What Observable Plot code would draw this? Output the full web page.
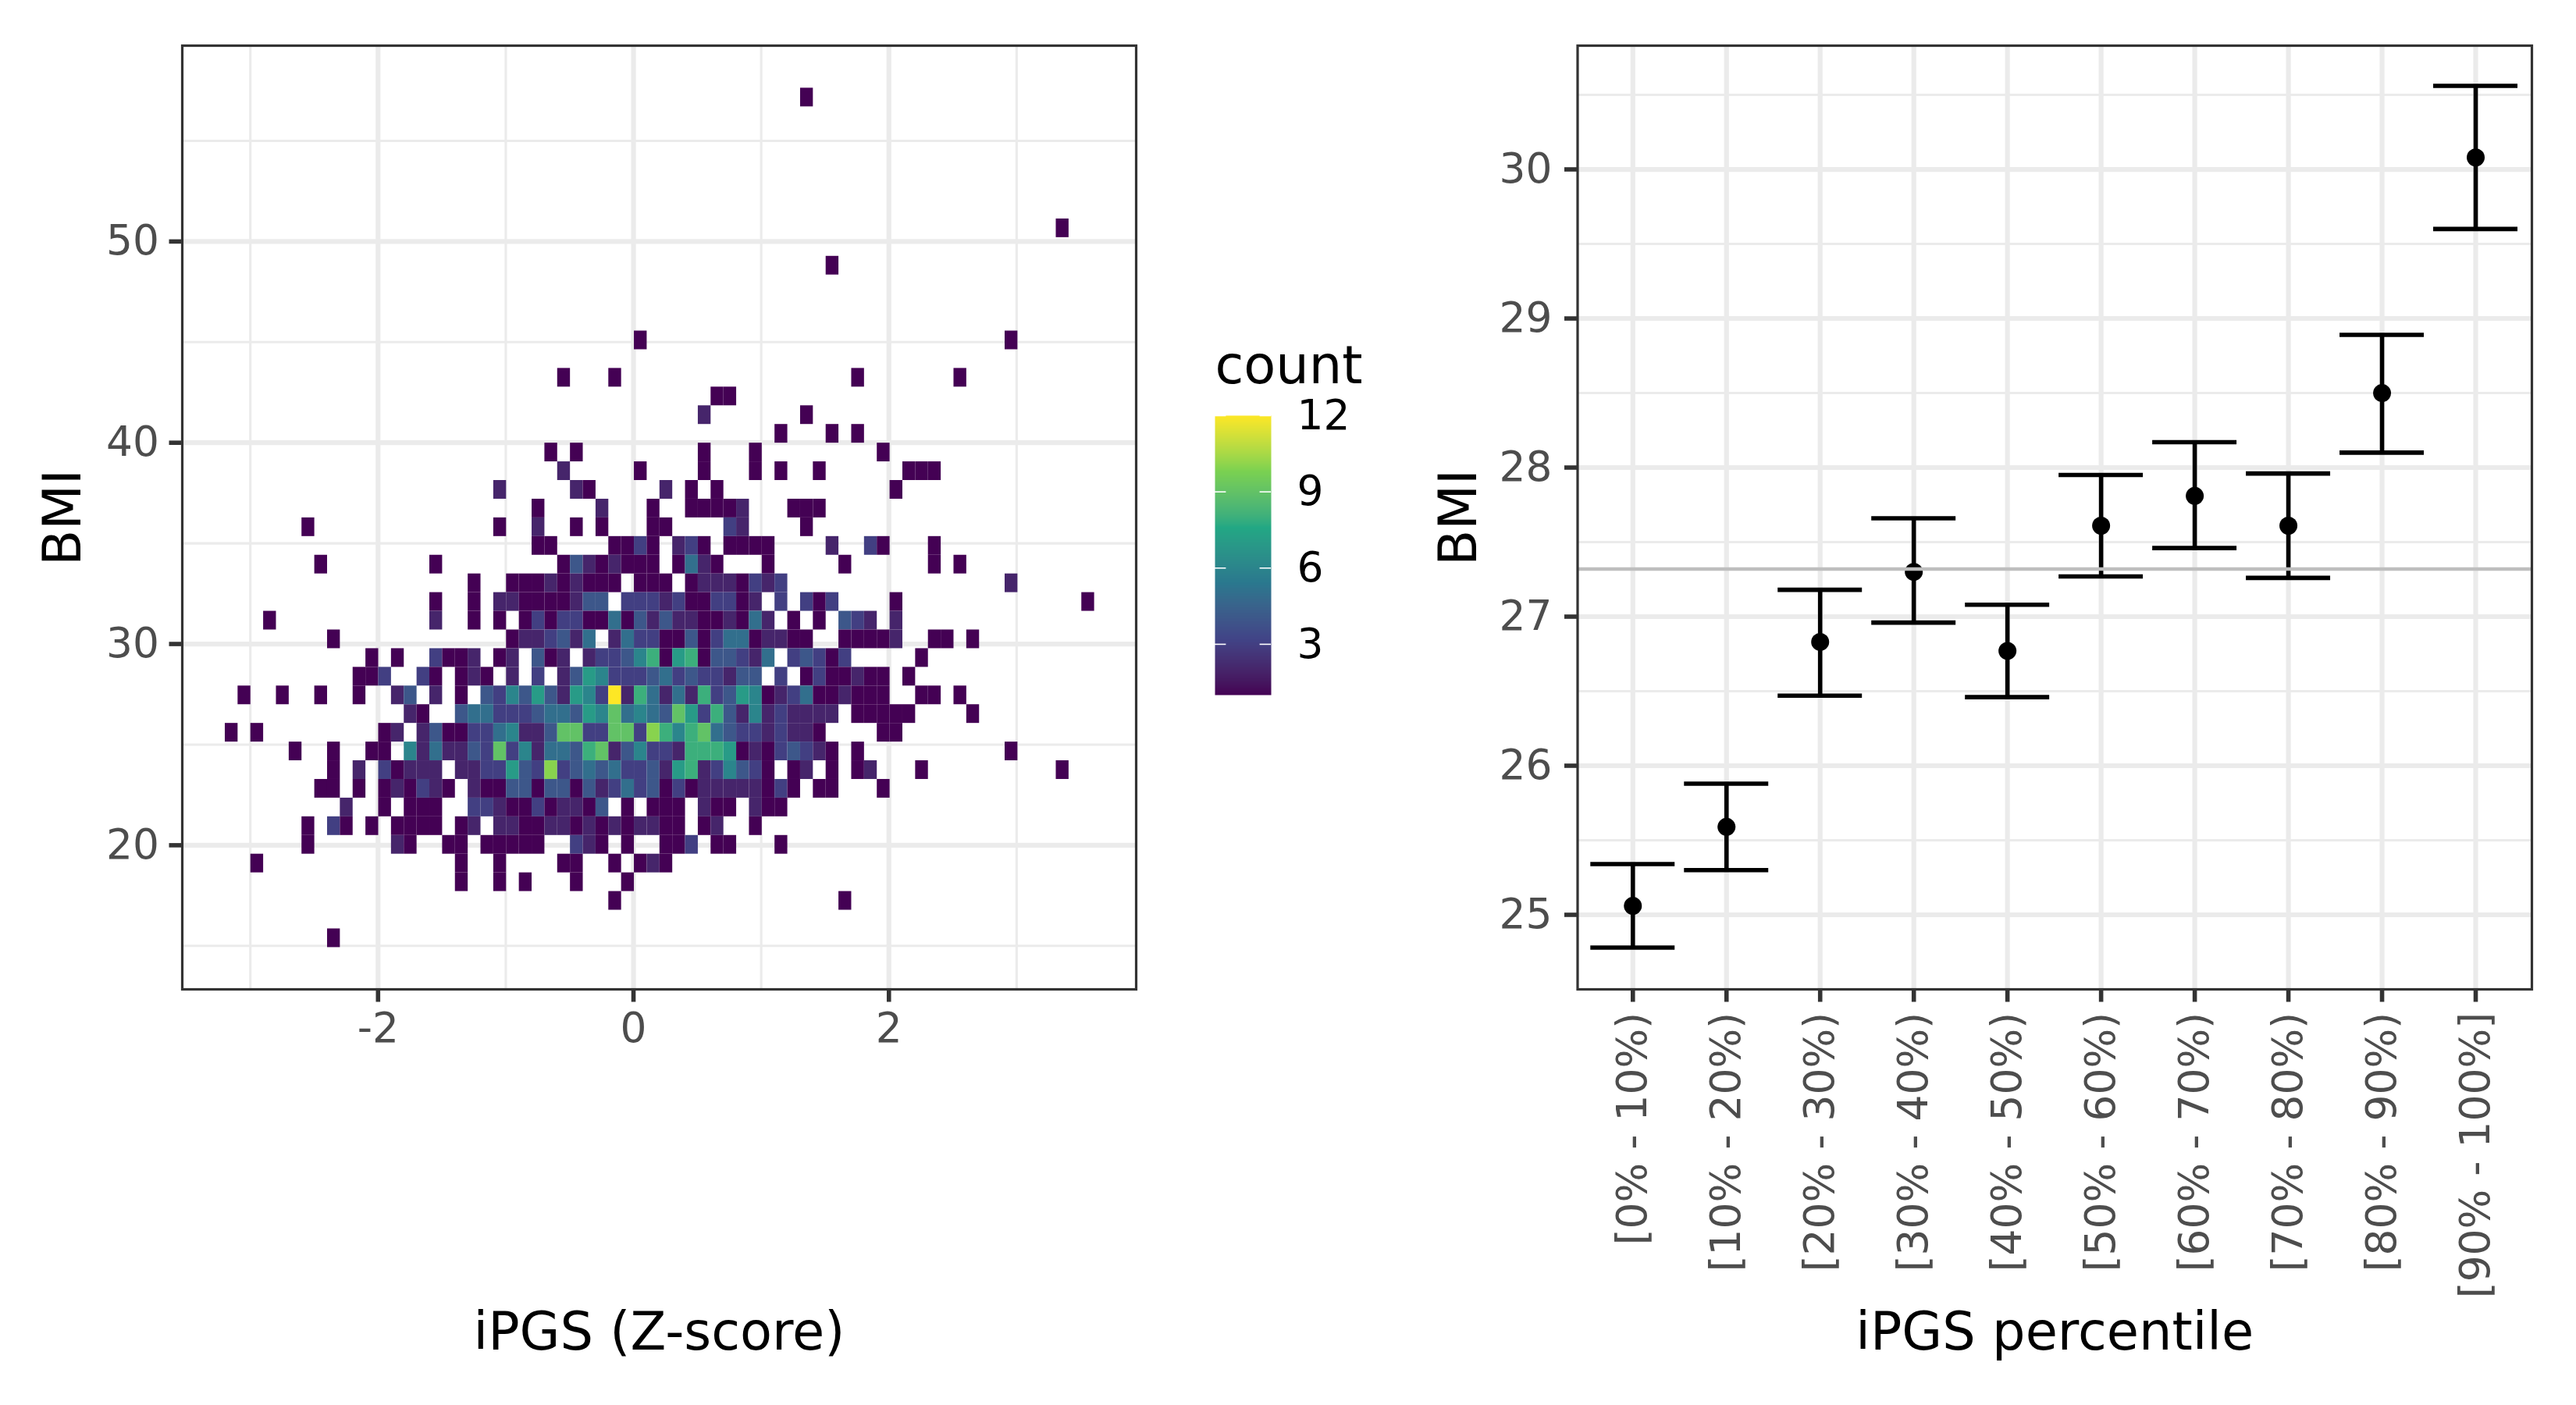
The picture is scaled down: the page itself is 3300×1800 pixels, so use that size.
<!DOCTYPE html>
<html>
<head>
<meta charset="utf-8">
<style>
html,body{margin:0;padding:0;background:#fff;width:3300px;height:1800px;overflow:hidden;}
.p{position:absolute;top:0;}
.p svg{max-width:none !important;display:block;background:transparent;}
</style>
<script src="https://cdn.jsdelivr.net/npm/d3@7"></script>
<script src="https://cdn.jsdelivr.net/npm/@observablehq/plot@0.6"></script>
</head>
<body>
<div class="p" id="left" style="left:0"></div>
<div class="p" id="legend" style="left:1520px;top:400px"></div>
<div class="p" id="right" style="left:1600px"></div>
<script>
// ---------- Left panel: 2D histogram of iPGS (Z-score) vs BMI ----------
const xBinStart = -3.197, xBinWidth = 0.1001;   // iPGS bin edges
const yBinTop = 39.055, yBinHeight = 0.9283;    // BMI bin edges
// [bmi row, [[iPGS column, count], ...]]
const heatRows = [
[-20,[[45,1]]],
[-13,[[65,1]]],
[-11,[[47,1]]],
[-7,[[32,1],[61,1]]],
[-5,[[26,1],[30,1],[49,1],[57,1]]],
[-4,[[38,1],[39,1]]],
[-3,[[37,2],[45,1]]],
[-2,[[43,1],[47,1],[49,1]]],
[-1,[[25,1],[27,1],[37,1],[41,1],[51,1]]],
[0,[[26,2],[32,1],[37,1],[41,1],[43,1],[46,1],[53,1],[54,1],[55,1]]],
[1,[[21,2],[27,2],[28,1],[34,2],[36,1],[38,1],[52,1]]],
[2,[[24,1],[29,2],[33,1],[36,1],[37,1],[38,1],[39,1],[40,2],[44,1],[45,1],[46,1]]],
[3,[[6,1],[21,1],[24,2],[27,1],[29,1],[33,1],[34,1],[39,3],[40,2],[45,1]]],
[4,[[24,1],[25,1],[30,1],[31,1],[32,3],[33,1],[35,2],[36,3],[37,1],[39,1],[40,1],[41,1],[42,1],[47,2],[50,3],[51,1],[55,1]]],
[5,[[7,1],[16,1],[26,1],[27,4],[28,2],[29,1],[30,2],[31,1],[32,1],[33,1],[35,1],[36,5],[37,2],[38,1],[42,1],[48,1],[55,1],[57,1]]],
[6,[[19,1],[22,1],[23,1],[24,1],[25,2],[26,1],[27,2],[28,1],[29,1],[30,1],[32,1],[33,1],[34,1],[36,1],[37,2],[38,2],[39,2],[40,1],[41,3],[42,2],[43,3],[61,2]]],
[7,[[16,1],[19,1],[21,2],[22,2],[23,1],[24,1],[25,1],[26,1],[27,2],[28,4],[29,4],[31,3],[32,3],[33,3],[34,2],[35,3],[36,1],[37,1],[38,3],[39,3],[40,1],[41,2],[43,3],[45,3],[46,1],[47,3],[52,1],[67,1]]],
[8,[[3,1],[16,2],[19,1],[21,1],[23,1],[24,3],[25,1],[26,3],[27,3],[28,1],[29,1],[30,5],[31,1],[32,4],[33,2],[34,4],[35,2],[36,2],[37,1],[38,1],[39,2],[40,1],[41,5],[42,2],[44,1],[46,1],[48,4],[49,3],[50,2],[52,2]]],
[9,[[8,1],[22,1],[23,2],[24,2],[25,3],[26,4],[27,2],[28,5],[30,2],[31,5],[32,3],[33,3],[34,1],[35,1],[36,4],[37,1],[38,3],[39,5],[40,5],[41,1],[42,2],[43,2],[44,1],[45,1],[48,1],[49,1],[50,1],[51,1],[52,2],[55,1],[56,1],[58,1]]],
[10,[[11,1],[13,1],[16,3],[17,1],[18,1],[19,2],[21,1],[22,2],[24,4],[25,1],[26,2],[28,2],[29,3],[30,3],[31,4],[32,6],[33,8],[34,1],[35,7],[36,8],[37,1],[38,4],[39,4],[40,3],[41,2],[42,5],[44,3],[45,4],[46,3],[47,1],[48,3],[54,1]]],
[11,[[10,1],[11,1],[12,3],[15,3],[16,1],[18,1],[19,2],[20,1],[22,2],[24,3],[26,2],[27,4],[28,7],[29,6],[30,3],[31,3],[32,3],[33,4],[34,5],[35,3],[36,4],[37,3],[38,3],[39,2],[40,4],[41,4],[43,3],[45,1],[46,3],[47,1],[48,1],[49,2],[50,1],[51,1],[53,1]]],
[12,[[1,1],[4,1],[7,1],[10,1],[13,2],[14,4],[16,2],[18,1],[20,4],[21,3],[22,6],[23,4],[24,7],[25,4],[26,2],[27,7],[28,6],[29,3],[30,12],[31,2],[32,8],[33,5],[34,2],[35,5],[36,2],[37,8],[38,3],[39,4],[40,7],[41,6],[42,1],[43,2],[44,3],[45,5],[46,1],[47,1],[48,2],[49,1],[50,1],[51,1],[54,1],[55,1],[57,1]]],
[13,[[14,2],[15,1],[18,4],[19,5],[20,5],[21,3],[22,3],[23,3],[24,4],[25,5],[26,5],[27,4],[28,7],[29,6],[30,9],[31,5],[32,6],[33,5],[34,4],[35,9],[36,7],[37,3],[38,8],[39,4],[40,2],[41,6],[42,2],[43,3],[44,2],[45,2],[46,2],[47,2],[49,1],[50,1],[51,1],[52,1],[53,1],[58,1]]],
[14,[[0,1],[2,1],[12,1],[13,2],[15,2],[16,4],[17,1],[18,1],[19,3],[20,3],[21,5],[22,6],[23,2],[24,2],[25,4],[26,9],[27,9],[28,3],[29,3],[30,9],[31,9],[32,3],[33,10],[34,8],[35,6],[36,8],[37,9],[38,5],[39,4],[40,3],[41,3],[42,2],[43,3],[44,2],[45,2],[46,1],[51,1],[52,1]]],
[15,[[5,1],[8,1],[11,1],[12,1],[14,6],[15,2],[16,5],[17,2],[18,2],[19,4],[20,3],[21,9],[22,3],[23,6],[24,2],[25,5],[26,5],[27,4],[28,8],[29,9],[30,2],[31,4],[32,6],[33,3],[34,3],[35,2],[36,8],[37,8],[38,8],[39,7],[40,1],[41,2],[42,1],[43,3],[44,4],[45,3],[46,2],[47,1],[49,1],[61,1]]],
[16,[[8,1],[10,2],[12,3],[13,1],[14,2],[15,2],[16,2],[18,2],[19,2],[20,3],[21,3],[22,7],[23,4],[24,3],[25,10],[26,3],[27,4],[28,5],[29,4],[30,5],[31,3],[32,3],[33,4],[34,2],[35,7],[36,8],[37,2],[38,3],[39,6],[40,4],[41,3],[42,1],[44,1],[45,2],[47,1],[49,1],[50,2],[54,1],[65,1]]],
[17,[[7,1],[8,1],[10,1],[12,1],[13,2],[14,1],[15,3],[16,2],[17,1],[19,2],[20,1],[21,1],[22,4],[23,4],[24,1],[25,4],[26,4],[27,1],[28,4],[29,2],[30,3],[31,5],[32,3],[33,4],[34,1],[35,3],[36,1],[37,2],[38,2],[39,2],[40,2],[41,2],[42,1],[43,3],[44,1],[46,1],[47,1],[51,1]]],
[18,[[9,2],[12,1],[14,1],[15,1],[16,1],[19,3],[20,3],[21,2],[22,1],[23,1],[24,3],[25,1],[26,2],[27,2],[28,1],[29,4],[31,1],[33,1],[34,1],[35,1],[37,2],[38,1],[39,1],[41,2],[42,1],[43,1]]],
[19,[[6,1],[8,3],[9,1],[11,1],[13,1],[14,1],[15,1],[16,1],[18,1],[19,2],[21,2],[22,2],[23,1],[24,1],[25,2],[26,2],[27,1],[28,2],[29,1],[30,2],[31,1],[32,2],[33,2],[34,1],[35,1],[37,1],[38,2],[41,1]]],
[20,[[6,1],[13,2],[14,1],[17,1],[18,1],[20,1],[21,1],[22,1],[23,1],[24,1],[27,3],[28,2],[29,1],[31,1],[34,1],[35,1],[36,3],[38,1],[39,1],[43,1]]],
[21,[[2,1],[18,1],[21,1],[26,1],[27,1],[30,1],[32,1],[33,2],[34,1]]],
[22,[[18,1],[21,1],[23,1],[27,1],[31,1]]],
[23,[[30,1],[48,1]]],
[25,[[8,1]]]
];
const xTicksLeft = [-2, 0, 2];
const xMinorLeft = [-3, -1, 1, 3];
const yTicksLeft = [20, 30, 40, 50];
const yMinorLeft = [15, 25, 35, 45, 55];

// ---------- Right panel: mean BMI with CI per iPGS percentile ----------
const percentiles = ["[0% - 10%)","[10% - 20%)","[20% - 30%)","[30% - 40%)","[40% - 50%)","[50% - 60%)","[60% - 70%)","[70% - 80%)","[80% - 90%)","[90% - 100%]"];
const bmiMean = [25.06, 25.59, 26.83, 27.30, 26.77, 27.61, 27.81, 27.61, 28.50, 30.08];
const bmiLow  = [24.78, 25.30, 26.47, 26.96, 26.46, 27.27, 27.46, 27.26, 28.10, 29.60];
const bmiHigh = [25.34, 25.88, 27.18, 27.66, 27.08, 27.95, 28.17, 27.96, 28.89, 30.56];
const bmiOverall = 27.32;
const yTicksRight = [25, 26, 27, 28, 29, 30];
const yMinorRight = [25.5, 26.5, 27.5, 28.5, 29.5, 30.5];

// ---------- Legend ----------
const legendTicks = [3, 6, 9, 12];

// ---------- Shared style ----------
const FONT = "DejaVu Sans";
const TICK = 53.4, TITLE = 67;
const GRID = "#ebebeb", MAJOR = 6.2, MINOR = 3.1;
const axisStyle = {color:"#4d4d4d", stroke:"#333333", strokeWidth:5.6, tickSize:16.5, tickPadding:13, fontSize:TICK, label:null};
const colorScale = {
  type:"linear",
  domain:[1, 3.2, 5.4, 7.6, 9.8, 12],
  range:["#440154","#414487","#2A788E","#22A884","#7AD151","#FDE725"],
  interpolate:"lab"
};

const cells = heatRows.flatMap(([r, cols]) => cols.map(([c, n]) => ({c, r, n})));

const left = Plot.plot({
  width:1600, height:1800,
  marginLeft:233, marginRight:145, marginTop:58, marginBottom:533,
  style:{fontFamily:FONT, background:"transparent", overflow:"visible"},
  x:{domain:[-3.533,3.936], axis:null},
  y:{domain:[12.84,59.73], axis:null},
  color:colorScale,
  marks:[
    Plot.ruleX(xMinorLeft,{stroke:GRID,strokeWidth:MINOR}),
    Plot.ruleY(yMinorLeft,{stroke:GRID,strokeWidth:MINOR}),
    Plot.ruleX(xTicksLeft,{stroke:GRID,strokeWidth:MAJOR}),
    Plot.ruleY(yTicksLeft,{stroke:GRID,strokeWidth:MAJOR}),
    Plot.rect(cells,{
      x1:d=>xBinStart+d.c*xBinWidth, x2:d=>xBinStart+(d.c+1)*xBinWidth,
      y1:d=>yBinTop-d.r*yBinHeight, y2:d=>yBinTop-(d.r+1)*yBinHeight,
      fill:"n"
    }),
    Plot.frame({stroke:"#333333",strokeWidth:3.2}),
    Plot.axisX(xTicksLeft,{...axisStyle,tickFormat:d=>String(d)}),
    Plot.axisY(yTicksLeft,{...axisStyle,tickFormat:d=>String(d)}),
    Plot.text(["iPGS (Z-score)"],{frameAnchor:"bottom",dy:461,fontSize:TITLE,fill:"#000"}),
    Plot.text(["BMI"],{frameAnchor:"left",textAnchor:"middle",dx:-152,rotate:-90,fontSize:TITLE,fill:"#000"})
  ]
});
document.getElementById("left").append(left);

const legend = Plot.plot({
  width:300, height:500,
  marginLeft:36, marginRight:192, marginTop:132, marginBottom:10,
  style:{fontFamily:FONT, background:"transparent", overflow:"visible"},
  x:{domain:[0,1], axis:null},
  y:{domain:[1,12], axis:null},
  color:colorScale,
  marks:[
    Plot.raster({x1:0,x2:1,y1:1,y2:12,fill:(x,y)=>y,pixelSize:1,interpolate:"none"}),
    Plot.ruleY(legendTicks,{x1:0,x2:0.2,stroke:"#fff",strokeWidth:1.6}),
    Plot.ruleY(legendTicks,{x1:0.8,x2:1,stroke:"#fff",strokeWidth:1.6}),
    Plot.axisY(legendTicks,{anchor:"right",tickSize:0,tickPadding:33,fontSize:TICK,color:"#000",label:null}),
    Plot.text(["count"],{frameAnchor:"top-left",textAnchor:"start",lineAnchor:"bottom",dy:-42,fontSize:TITLE,fill:"#000"})
  ]
});
document.getElementById("legend").append(legend);

const errs = percentiles.map((p,i)=>({i:i+1,mean:bmiMean[i],lo:bmiLow[i],hi:bmiHigh[i]}));
const right = Plot.plot({
  width:1700, height:1800,
  marginLeft:420.5, marginRight:57, marginTop:58, marginBottom:533,
  style:{fontFamily:FONT, background:"transparent", overflow:"visible"},
  x:{domain:[0.41,10.6], axis:null},
  y:{domain:[24.5,30.83], axis:null},
  marks:[
    Plot.ruleY(yMinorRight,{stroke:GRID,strokeWidth:MINOR}),
    Plot.ruleX(errs,{x:"i",stroke:GRID,strokeWidth:MAJOR}),
    Plot.ruleY(yTicksRight,{stroke:GRID,strokeWidth:MAJOR}),
    Plot.ruleX(errs,{x:"i",y1:"lo",y2:"hi",stroke:"#000",strokeWidth:5.6}),
    Plot.ruleY(errs,{y:"lo",x1:d=>d.i-0.45,x2:d=>d.i+0.45,stroke:"#000",strokeWidth:5.6}),
    Plot.ruleY(errs,{y:"hi",x1:d=>d.i-0.45,x2:d=>d.i+0.45,stroke:"#000",strokeWidth:5.6}),
    Plot.dot(errs,{x:"i",y:"mean",r:11.5,fill:"#000"}),
    Plot.ruleY([bmiOverall],{stroke:"#bebebe",strokeWidth:4.5}),
    Plot.frame({stroke:"#333333",strokeWidth:3.2}),
    Plot.axisX(errs.map(d=>d.i),{...axisStyle,tickRotate:-90,tickFormat:i=>percentiles[i-1]}),
    Plot.axisY(yTicksRight,{...axisStyle,tickPadding:16,tickFormat:d=>String(d)}),
    Plot.text(["iPGS percentile"],{frameAnchor:"bottom",dy:461,fontSize:TITLE,fill:"#000"}),
    Plot.text(["BMI"],{frameAnchor:"left",textAnchor:"middle",dx:-151.5,rotate:-90,fontSize:TITLE,fill:"#000"})
  ]
});
document.getElementById("right").append(right);
</script>
</body>
</html>
